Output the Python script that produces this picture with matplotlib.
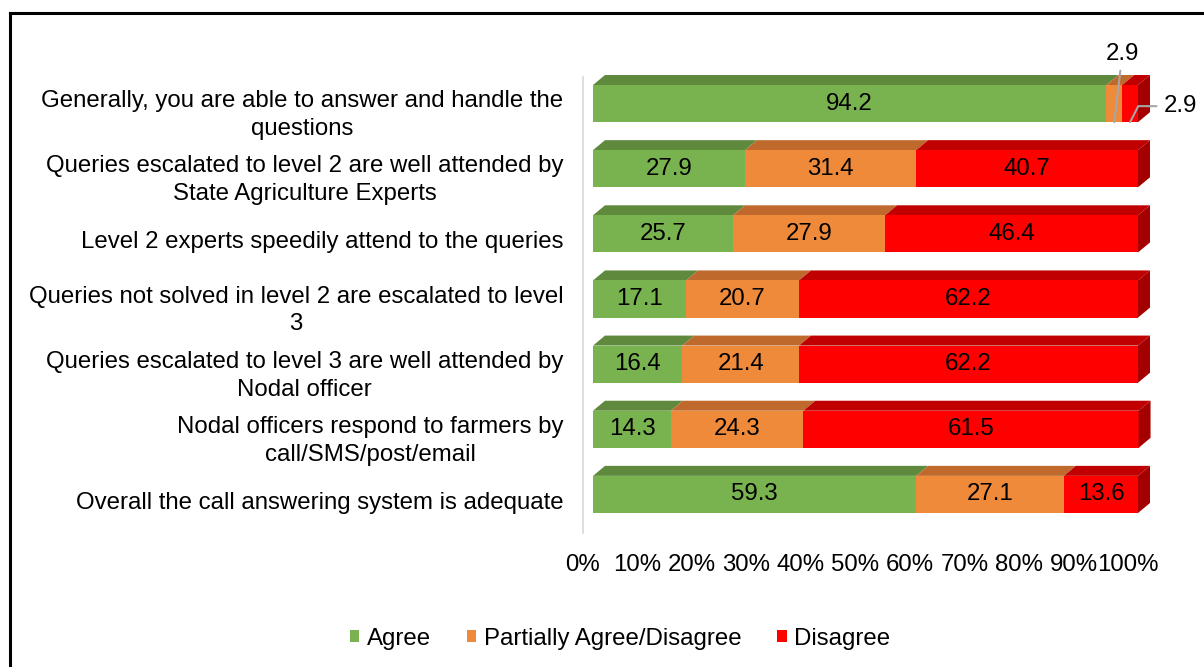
import numpy as np
import matplotlib.pyplot as plt
from matplotlib.patches import Polygon, Patch
from matplotlib.lines import Line2D
from matplotlib.transforms import ScaledTranslation

plt.rcParams['font.family'] = ['Liberation Sans', 'DejaVu Sans']

# survey statements (top to bottom)
categories = [
    "Generally, you are able to answer and handle the\nquestions",
    "Queries escalated to level 2 are well attended by\nState Agriculture Experts",
    "Level 2 experts speedily attend to the queries",
    "Queries not solved in level 2 are escalated to level\n3",
    "Queries escalated to level 3 are well attended by\nNodal officer",
    "Nodal officers respond to farmers by\ncall/SMS/post/email",
    "Overall the call answering system is adequate",
]
agree = [94.2, 27.9, 25.7, 17.1, 16.4, 14.3, 59.3]
partial = [2.9, 31.4, 27.9, 20.7, 21.4, 24.3, 27.1]
disagree = [2.9, 40.7, 46.4, 62.2, 62.2, 61.5, 13.6]
series_names = ['Agree', 'Partially Agree/Disagree', 'Disagree']
xtick_vals = list(range(0, 101, 10))

front_cols = ['#79b350', '#ef8a3b', '#ff0000']
top_cols = ['#5f8a3e', '#c0692d', '#c00000']
side_col = '#a50000'

fs = 17.3
W, H, DPI = 12.04, 6.67, 100
fig = plt.figure(figsize=(W, H), dpi=DPI)
ax_l, ax_b, ax_w, ax_h = 583 / 1204, 1 - 533 / 667, 545 / 1204, 456 / 667
ax = fig.add_axes([ax_l, ax_b, ax_w, ax_h])

n = len(categories)
y = np.arange(n)
ax.set_xlim(0, 100)
ax.set_ylim(n - 0.5, -0.5)

# 3D look: bars sit slightly right/up of the axis, with a depth face
bar_tr = ax.transData + ScaledTranslation(10 / DPI, 6 / DPI, fig.dpi_scale_trans)
px_x = ax_w * W * DPI / 100.0
px_y = ax_h * H * DPI / n
dx = 12 / px_x
dy = 10 / px_y
bh = 0.57

data = [agree, partial, disagree]
for i in range(n):
    left = 0
    for k, vals in enumerate(data):
        v = vals[i]
        top = y[i] - bh / 2
        poly = Polygon([(left, top), (left + v, top), (left + v + dx, top - dy), (left + dx, top - dy)],
                       closed=True, facecolor=top_cols[k], edgecolor='none', transform=bar_tr,
                       clip_on=False)
        ax.add_patch(poly)
        ax.barh(y[i], v, left=left, height=bh, color=front_cols[k], transform=bar_tr, clip_on=False)
        left += v
    top = y[i] - bh / 2
    bot = y[i] + bh / 2
    side = Polygon([(left, bot), (left, top), (left + dx, top - dy), (left + dx, bot - dy)],
                   closed=True, facecolor=side_col, edgecolor='none', transform=bar_tr, clip_on=False)
    ax.add_patch(side)

# value labels
for i in range(n):
    left = 0
    for k, vals in enumerate(data):
        v = vals[i]
        c = left + v / 2
        if v >= 5:
            ax.text(c, y[i], f"{v:.1f}", ha='center', va='center', fontsize=fs,
                    color='black', transform=bar_tr)
        elif k == 1:
            ax.annotate(f"{v:.1f}", xy=(c, y[i] + bh / 2), xycoords=bar_tr,
                        xytext=(8, 68), textcoords='offset pixels', ha='center', va='center',
                        fontsize=fs, annotation_clip=False,
                        arrowprops=dict(arrowstyle='-', color='#a6a6a6', lw=1.5,
                                        shrinkA=2, shrinkB=0))
        else:
            ax.annotate(f"{v:.1f}", xy=(c, y[i] + bh / 2), xycoords=bar_tr,
                        xytext=(50, 16), textcoords='offset pixels', ha='center', va='center',
                        fontsize=fs, annotation_clip=False,
                        arrowprops=dict(arrowstyle='-', color='#a6a6a6', lw=1.5,
                                        shrinkA=3, shrinkB=0,
                                        connectionstyle='angle,angleA=0,angleB=63,rad=0'))
        left += v

ax.set_yticks(y)
ax.set_yticklabels(categories, fontsize=fs, multialignment='center', linespacing=1.35)
ax.set_xticks(xtick_vals)
ax.set_xticklabels([f"{t}%" for t in xtick_vals], fontsize=fs)
ax.tick_params(axis='y', length=0, pad=14)
ax.tick_params(axis='x', length=0, pad=15)
for s in ['top', 'right', 'bottom']:
    ax.spines[s].set_visible(False)
ax.spines['left'].set_color('#d9d9d9')
ax.spines['left'].set_linewidth(1.2)
ax.set_facecolor('none')

handles = [Patch(facecolor=c, edgecolor='none') for c in front_cols]
fig.legend(handles, series_names, loc='center', bbox_to_anchor=(0.515, 1 - 639 / 667), ncol=3,
           frameon=False, fontsize=fs, handlelength=0.4, handleheight=0.4,
           handletextpad=0.3, columnspacing=1.5)

# outer frame (top and left edges visible)
fig.add_artist(Line2D([10 / 1204, 1], [1 - 13 / 667, 1 - 13 / 667], color='black', lw=2.2,
                      transform=fig.transFigure))
fig.add_artist(Line2D([10 / 1204, 10 / 1204], [0, 1 - 13 / 667], color='black', lw=2.2,
                      transform=fig.transFigure))

plt.savefig('out.png', dpi=DPI)
